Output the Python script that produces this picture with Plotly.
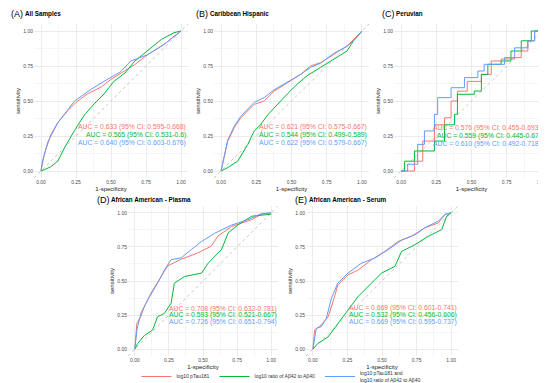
import plotly.graph_objects as go

W, H = 546, 383

series_names = ["log10 pTau181", "log10 ratio of A\u03b242 to A\u03b240",
                "log10 pTau181 and<br>log10 ratio of A\u03b242 to A\u03b240"]
colors = ["#F8766D", "#00BA38", "#619CFF"]

# Panel A: All Samples
A_red_x = [0, 0.024, 0.07, 0.12, 0.19, 0.25, 0.33, 0.43, 0.50, 0.57, 0.67, 0.76, 0.88, 1.0]
A_red_y = [0, 0.12, 0.26, 0.345, 0.43, 0.49, 0.55, 0.60, 0.655, 0.70, 0.76, 0.83, 0.905, 1.0]
A_grn_x = [0, 0.07, 0.12, 0.17, 0.24, 0.31, 0.38, 0.45, 0.52, 0.60, 0.67, 0.76, 0.86, 0.95, 1.0]
A_grn_y = [0, 0.03, 0.07, 0.17, 0.29, 0.40, 0.48, 0.55, 0.64, 0.70, 0.785, 0.857, 0.94, 0.988, 1.0]
A_blu_x = [0, 0.01, 0.05, 0.12, 0.24, 0.36, 0.45, 0.57, 0.64, 0.76, 0.88, 1.0]
A_blu_y = [0, 0.07, 0.21, 0.345, 0.50, 0.585, 0.64, 0.71, 0.785, 0.83, 0.905, 1.0]

# Panel B: Caribbean Hispanic
B_red_x = [0, 0.024, 0.047, 0.094, 0.14, 0.235, 0.306, 0.376, 0.47, 0.565, 0.635, 0.706, 0.80, 0.894, 0.965, 1.0]
B_red_y = [0, 0.12, 0.21, 0.31, 0.38, 0.476, 0.50, 0.57, 0.63, 0.69, 0.75, 0.774, 0.833, 0.893, 0.964, 1.0]
B_grn_x = [0, 0.047, 0.118, 0.19, 0.235, 0.28, 0.33, 0.40, 0.47, 0.54, 0.61, 0.706, 0.80, 0.894, 0.94, 0.99, 1.0]
B_grn_y = [0, 0.024, 0.07, 0.19, 0.286, 0.33, 0.40, 0.476, 0.55, 0.62, 0.68, 0.74, 0.80, 0.857, 0.93, 0.988, 1.0]
B_blu_x = [0, 0.024, 0.047, 0.094, 0.14, 0.235, 0.306, 0.376, 0.47, 0.565, 0.635, 0.706, 0.80, 0.894, 0.965, 1.0]
B_blu_y = [0, 0.12, 0.22, 0.32, 0.39, 0.49, 0.524, 0.58, 0.635, 0.69, 0.74, 0.77, 0.84, 0.89, 0.955, 1.0]

# Panel C: Peruvian
C_red_x = [0, 0.07, 0.095, 0.154, 0.237, 0.308, 0.355, 0.40, 0.47, 0.57, 0.64, 0.71, 0.806, 0.853, 0.90, 0.948, 1.0]
C_red_y = [0, 0, 0.07, 0.214, 0.33, 0.38, 0.50, 0.57, 0.64, 0.69, 0.786, 0.80, 0.81, 0.857, 0.93, 1.0, 1.0]
C_grn_x = [0, 0.024, 0.095, 0.213, 0.237, 0.308, 0.38, 0.40, 0.52, 0.57, 0.616, 0.71, 0.78, 0.853, 0.924, 1.0]
C_grn_y = [0, 0.07, 0.143, 0.143, 0.214, 0.33, 0.405, 0.548, 0.571, 0.69, 0.762, 0.786, 0.857, 0.93, 1.0, 1.0]
C_blu_x = [0, 0.047, 0.118, 0.166, 0.237, 0.26, 0.355, 0.45, 0.545, 0.59, 0.735, 0.806, 0.90, 0.948, 1.0]
C_blu_y = [0, 0.048, 0.19, 0.286, 0.405, 0.524, 0.595, 0.667, 0.714, 0.762, 0.81, 0.88, 0.93, 1.0, 1.0]

# Panel D: African American - Plasma
D_red_x = [0, 0.015, 0.044, 0.069, 0.118, 0.18, 0.24, 0.34, 0.46, 0.56, 0.61, 0.71, 0.857, 0.93, 1.0]
D_red_y = [0, 0.19, 0.24, 0.31, 0.41, 0.51, 0.61, 0.66, 0.705, 0.755, 0.83, 0.90, 0.95, 0.99, 1.0]
D_grn_x = [0, 0.02, 0.069, 0.13, 0.167, 0.217, 0.266, 0.29, 0.364, 0.49, 0.537, 0.635, 0.685, 0.76, 0.857, 1.0]
D_grn_y = [0, 0.04, 0.10, 0.14, 0.238, 0.263, 0.337, 0.484, 0.533, 0.558, 0.63, 0.73, 0.853, 0.914, 0.975, 0.99]
D_blu_x = [0, 0.015, 0.044, 0.094, 0.167, 0.217, 0.266, 0.34, 0.414, 0.49, 0.586, 0.71, 0.83, 0.93, 1.0]
D_blu_y = [0, 0.14, 0.263, 0.36, 0.484, 0.58, 0.656, 0.67, 0.73, 0.79, 0.85, 0.91, 0.95, 0.995, 1.0]

# Panel E: African American - Serum
E_red_x = [0, 0.012, 0.06, 0.11, 0.157, 0.18, 0.254, 0.327, 0.424, 0.52, 0.617, 0.714, 0.81, 0.908, 0.956, 1.0]
E_red_y = [0, 0.14, 0.177, 0.238, 0.386, 0.47, 0.545, 0.58, 0.656, 0.717, 0.79, 0.828, 0.89, 0.926, 0.988, 1.0]
E_grn_x = [0, 0.036, 0.11, 0.18, 0.254, 0.327, 0.40, 0.496, 0.593, 0.642, 0.74, 0.835, 0.932, 0.968, 1.0]
E_grn_y = [0, 0.042, 0.09, 0.19, 0.287, 0.386, 0.46, 0.558, 0.607, 0.717, 0.767, 0.828, 0.877, 0.975, 1.0]
E_blu_x = [0, 0.024, 0.06, 0.097, 0.133, 0.18, 0.254, 0.35, 0.448, 0.545, 0.642, 0.74, 0.81, 0.908, 0.956, 1.0]
E_blu_y = [0, 0.152, 0.165, 0.226, 0.37, 0.484, 0.558, 0.63, 0.668, 0.73, 0.80, 0.84, 0.89, 0.94, 0.988, 1.0]

panel_letters = ["(A)", "(B)", "(C)", "(D)", "(E)"]
panel_titles = ["All Samples", "Caribbean Hispanic", "Peruvian",
                "African American - Plasma", "African American - Serum"]
auc_texts = [
    ["AUC = 0.633 (95% CI: 0.595-0.668)", "AUC = 0.565 (95% CI: 0.531-0.6)", "AUC = 0.640 (95% CI: 0.603-0.676)"],
    ["AUC = 0.621 (95% CI: 0.575-0.667)", "AUC = 0.544 (95% CI: 0.499-0.589)", "AUC = 0.622 (95% CI: 0.579-0.667)"],
    ["AUC = 0.576 (95% CI: 0.455-0.693)", "AUC = 0.559 (95% CI: 0.445-0.67)", "AUC = 0.610 (95% CI: 0.492-0.718)"],
    ["AUC = 0.708 (95% CI: 0.632-0.781)", "AUC = 0.593 (95% CI: 0.521-0.667)", "AUC = 0.726 (95% CI: 0.651-0.794)"],
    ["AUC = 0.669 (95% CI: 0.601-0.741)", "AUC = 0.532 (95% CI: 0.456-0.606)", "AUC = 0.669 (95% CI: 0.595-0.737)"],
]
tick_vals = [0, 0.25, 0.5, 0.75, 1.0]
tick_text = ["0.00", "0.25", "0.50", "0.75", "1.00"]

curves = [
    [(A_red_x, A_red_y), (A_grn_x, A_grn_y), (A_blu_x, A_blu_y)],
    [(B_red_x, B_red_y), (B_grn_x, B_grn_y), (B_blu_x, B_blu_y)],
    [(C_red_x, C_red_y), (C_grn_x, C_grn_y), (C_blu_x, C_blu_y)],
    [(D_red_x, D_red_y), (D_grn_x, D_grn_y), (D_blu_x, D_blu_y)],
    [(E_red_x, E_red_y), (E_grn_x, E_grn_y), (E_blu_x, E_blu_y)],
]

# panel pixel boxes (left, right, top, bottom)
boxes = [(26, 180, 16, 170), (206, 361, 16, 170), (386, 541, 16, 170),
         (120, 270, 198, 348), (298, 450, 198, 348)]
title_pos = [(1, 6), (186, 6), (372, 6), (87, 192), (285, 192)]
auc_y = [[0.317, 0.257, 0.197], [0.317, 0.257, 0.197], [0.305, 0.25, 0.195],
         [0.295, 0.248, 0.2], [0.30, 0.25, 0.2]]
auc_right_px = [180, 361, 535, 271, 451]

FONT = "Liberation Sans, Arial, sans-serif"
fig = go.Figure()
layout = dict(width=W, height=H, margin=dict(l=0, r=0, t=0, b=0),
              paper_bgcolor="white", plot_bgcolor="white",
              font=dict(family=FONT, color="black"),
              showlegend=True,
              legend=dict(orientation="h", x=0.5, xanchor="center", y=0.0, yanchor="bottom",
                          font=dict(size=5, color="#333"), itemwidth=30, tracegroupgap=0,
                          bgcolor="rgba(0,0,0,0)"),
              annotations=[], shapes=[])

for i in range(5):
    sfx = "" if i == 0 else str(i + 1)
    xa, ya = "x" + sfx, "y" + sfx
    l, r, t, b = boxes[i]
    common = dict(range=[-0.05, 1.05], tickvals=tick_vals, ticktext=tick_text,
                  tickfont=dict(size=5, color="#4d4d4d"), showline=False, zeroline=False,
                  ticks="", gridcolor="#ebebeb", gridwidth=0.6,
                  minor=dict(tickvals=[0.125, 0.375, 0.625, 0.875], showgrid=True,
                             gridcolor="#f5f5f5", gridwidth=0.4))
    layout["xaxis" + sfx] = dict(common, domain=[l / W, r / W], anchor=ya,
                                 title=dict(text="1-specificity", font=dict(size=6, color="#222"), standoff=2))
    layout["yaxis" + sfx] = dict(common, domain=[1 - b / H, 1 - t / H], anchor=xa,
                                 title=dict(text="sensitivity", font=dict(size=6, color="#222"), standoff=2))
    # diagonal reference
    fig.add_trace(go.Scatter(x=[-0.05, 1.05], y=[-0.05, 1.05], mode="lines", xaxis=xa, yaxis=ya,
                             line=dict(color="#bbbbbb", width=0.8, dash="dot"),
                             showlegend=False, hoverinfo="skip"))
    for k in range(3):
        cx, cy = curves[i][k]
        fig.add_trace(go.Scatter(x=cx, y=cy, mode="lines", xaxis=xa, yaxis=ya,
                                 line=dict(color=colors[k], width=1,
                                           shape="hv" if i == 2 else "linear"),
                                 name=series_names[k], legendgroup=str(k),
                                 showlegend=(i == 0)))
        layout["annotations"].append(dict(x=auc_right_px[i] / W,
                                          y=(auc_y[i][k] + 0.05) / 1.1,
                                          xref="paper", yref=ya + " domain",
                                          text=auc_texts[i][k], showarrow=False,
                                          xanchor="right", yanchor="middle",
                                          font=dict(size=6.8, color=colors[k])))
    tx, ty = title_pos[i]
    layout["annotations"].append(dict(x=tx / W, y=1 - ty / H, xref="paper", yref="paper",
                                      text=panel_letters[i], showarrow=False,
                                      xanchor="left", yanchor="middle",
                                      font=dict(size=9, color="black")))
    layout["annotations"].append(dict(x=(tx + 14) / W, y=1 - ty / H, xref="paper", yref="paper",
                                      text="<b>" + panel_titles[i] + "</b>", showarrow=False,
                                      xanchor="left", yanchor="middle",
                                      font=dict(size=6.3, color="black")))

fig.update_layout(**layout)
fig.write_html("out.html")
